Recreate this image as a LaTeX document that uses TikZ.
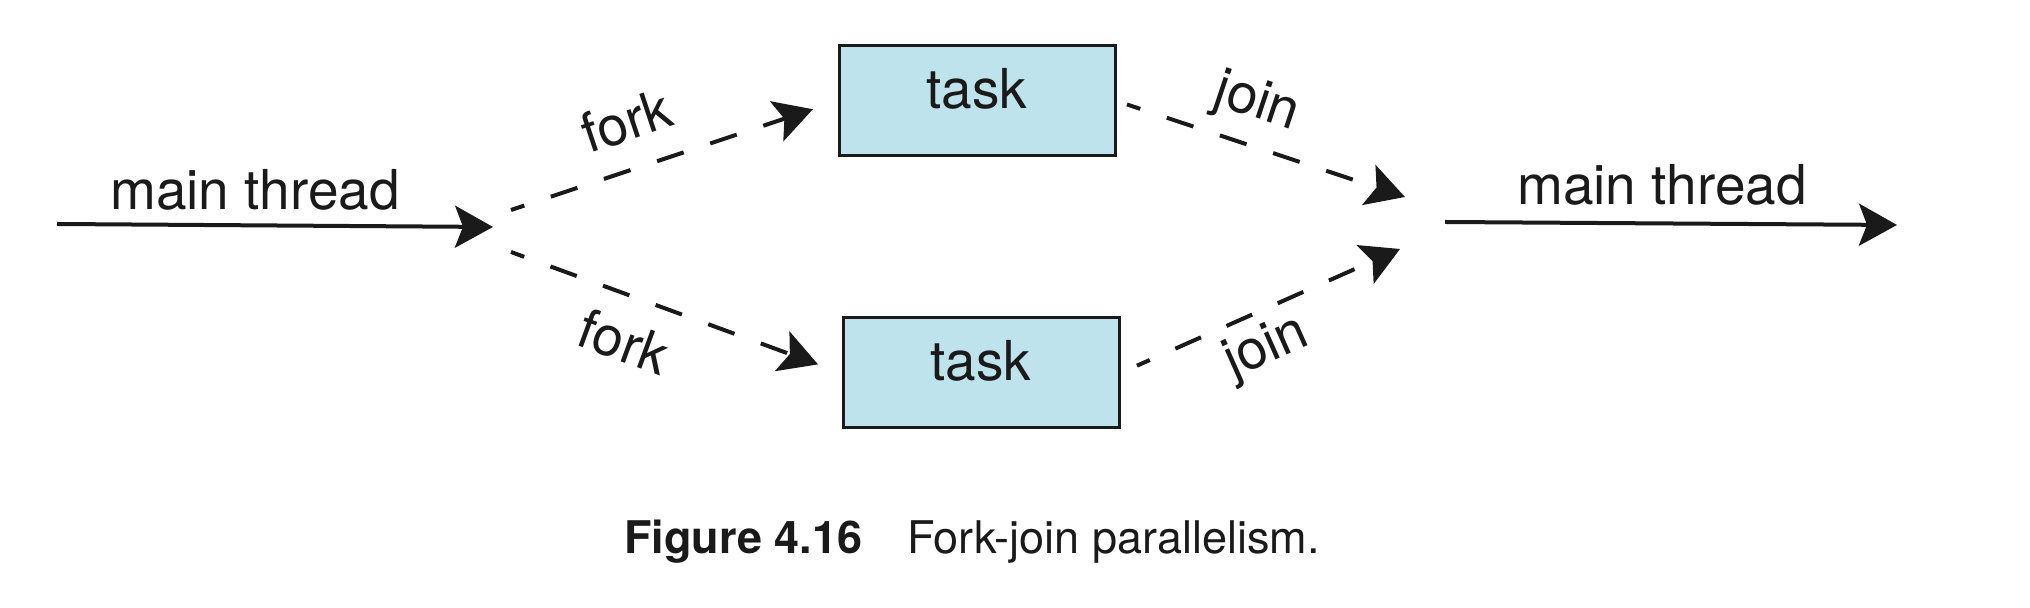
\documentclass[tikz,border=0pt]{standalone}
\usepackage{fontspec}
\setmainfont{TeX Gyre Heros}
\definecolor{taskblue}{RGB}{191,227,237}
\definecolor{ink}{RGB}{26,26,26}
\usetikzlibrary{arrows.meta,positioning}

\begin{document}
\begin{tikzpicture}[x=0.5pt,y=0.5pt,
		thread/.style={draw=ink,line width=2pt,-{Stealth[length=19pt,width=21pt,inset=4pt]}},
		forkjoin/.style={thread,dash pattern=on 14pt off 14pt,dash phase=7pt},
		taskbox/.style={draw=ink,fill=taskblue,line width=1.5pt,minimum width=138pt,minimum height=55pt,text height=20pt,text depth=12pt,inner sep=0pt},
		lbl/.style={text=ink,font=\fontsize{27.5}{33}\selectfont}]
		\path[use as bounding box] (0,0) rectangle (2030,608);
		
		%main thread in
		\coordinate (mainin) at (57,384);
		\coordinate (forkpt) at (493,381);
		\coordinate (forkup) at (511,398);
		\coordinate (forkdn) at (511,356);
		\node [lbl,anchor=base] (lmain) at (255,398) {main thread};
		
		%tasks
		\node [taskbox,lbl] (task1) at (977,507) {task};
		\node [taskbox,lbl] (task2) at (981,235) {task};
		
		%main thread out
		\coordinate (joinup) at (1405,411);
		\coordinate (joindn) at (1400,359);
		\coordinate (mainout) at (1445,386);
		\coordinate (mainend) at (1897,383);
		\node [lbl,anchor=base] (rmain) at (1662,403) {main thread};
		
		\draw [thread] (mainin) -- (forkpt);
		\draw [forkjoin,shorten >=13pt] (forkup) -- node [lbl,sloped,pos=0.40,above=9.5pt] (fork1) {fork} (task1.west);
		\draw [forkjoin,shorten >=12.5pt] (forkdn) -- node [lbl,sloped,pos=0.39,below=8pt] (fork2) {fork} (task2.west);
		\draw [forkjoin,shorten <=5.5pt] (task1.east) -- node [lbl,sloped,pos=0.44,above=3.6pt] (join1) {join} (joinup);
		\draw [forkjoin,shorten <=9pt] (task2.east) -- node [lbl,sloped,pos=0.47,below=1.6pt] (join2) {join} (joindn);
		\draw [thread] (mainout) -- (mainend);
		
		% caption
		\node [text=ink,anchor=base west,inner sep=0pt,font=\fontsize{22.5}{27}\selectfont] (caption) at (624,54) {\textbf{Figure 4.16}\quad Fork-join parallelism.};
		
\end{tikzpicture}
\end{document}
